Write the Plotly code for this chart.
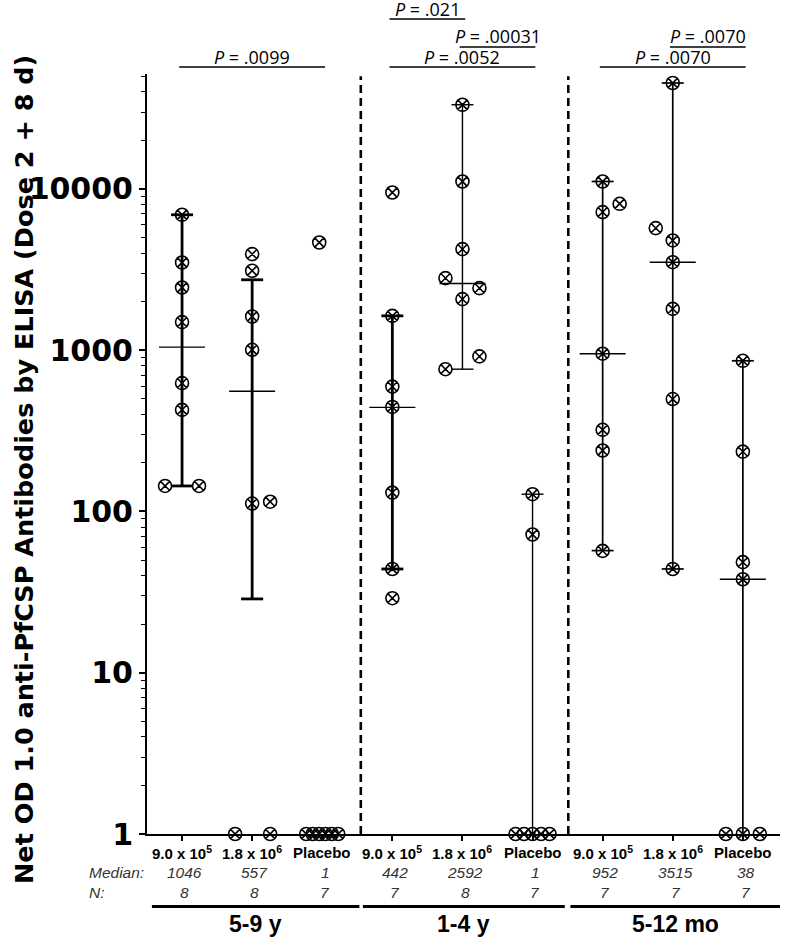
import plotly.graph_objects as go

# ---------------- data ----------------
categories = ["9.0 x 10<sup>5</sup>", "1.8 x 10<sup>6</sup>", "Placebo"] * 3
age_groups = ["5-9 y", "1-4 y", "5-12 mo"]
median_labels = ["1046", "557", "1", "442", "2592", "1", "952", "3515", "38"]
n_labels = ["8", "8", "7", "7", "8", "7", "7", "7", "7"]

vals_59_low = [6918, 3499, 2449, 1494, 625, 427, 144, 144]
vals_59_high = [3945, 3110, 1618, 1006, 112, 115, 1, 1]
vals_59_pbo = [4658, 1, 1, 1, 1, 1, 1]
vals_14_low = [9511, 1634, 595, 445, 131, 44, 29]
vals_14_high = [33300, 11130, 4238, 2800, 2428, 2075, 916, 763]
vals_14_pbo = [128, 72, 1, 1, 1, 1, 1]
vals_512_low = [11130, 8093, 7190, 952, 321, 239, 57]
vals_512_high = [45400, 5720, 4795, 3515, 1806, 498, 44]
vals_512_pbo = [860, 235, 48.5, 38, 1, 1, 1]

medians = [1046, 557, 1, 442, 2592, 1, 952, 3515, 38]
whisker_low = [144, 28.7, None, 44, 763, 1, 57.2, 44, 1]
whisker_high = [6918, 2735, None, 1634, 33300, 128, 11130, 45400, 860]

p_values = [".0099", ".021", ".00031", ".0052", ".0070", ".0070"]
p_pairs = [(0, 2), (3, 4), (4, 5), (3, 5), (7, 8), (6, 8)]

# ---------------- layout / style ----------------
series = [vals_59_low, vals_59_high, vals_59_pbo,
          vals_14_low, vals_14_high, vals_14_pbo,
          vals_512_low, vals_512_high, vals_512_pbo]
# horizontal scatter offsets of the dots (pixels)
jitter_px = [
    [0, 0, 0, 0, 0, 0, -17, 17],
    [0, 0, 0, 0, 0, 18, -17, 18],
    [-3, -16, -9.6, -3.2, 3.2, 9.6, 16],
    [0, 0, 0, 0, 0, 0, 0],
    [0, 0, 0, -17, 17, 0, 17, -17],
    [0, 0, -17, -8.5, 0, 8.5, 17],
    [0, 17, 0, 0, 0, 0, 0],
    [0, -17, 0, 0, 0, 0, 0],
    [0, 0, 0, 0, -17, 0, 17],
]
whisker_width = [2.8, 2.8, 0, 2.8, 1.4, 1.4, 1.7, 1.7, 1.7]
# paper-y of bracket lines and of their texts (three stacked levels)
p_line_y = [1.0092, 1.0724, 1.0355, 1.0092, 1.0355, 1.0092]
p_text_y = [1.0224, 1.0855, 1.0500, 1.0224, 1.0500, 1.0224]

W, H = 788, 942
ML, MR, MT, MB = 147, 8, 74, 108
XR = [-0.5, 8.53]
PX_PER_UNIT = (W - ML - MR) / (XR[1] - XR[0])
CAP_HALF = 11 / PX_PER_UNIT
MED_HALF = 23 / PX_PER_UNIT
dividers = [2.55, 5.51]

fig = go.Figure()

# whiskers, caps, median lines
for i in range(9):
    if whisker_low[i] is not None:
        xs = [i, i, None]
        ys = [whisker_low[i], whisker_high[i], None]
        for v in (whisker_low[i], whisker_high[i]):
            if v > 1:
                xs += [i - CAP_HALF, i + CAP_HALF, None]
                ys += [v, v, None]
        fig.add_trace(go.Scatter(x=xs, y=ys, mode="lines",
                                 line=dict(color="black", width=whisker_width[i]),
                                 cliponaxis=False, hoverinfo="skip", showlegend=False))
    if medians[i] > 1:
        fig.add_trace(go.Scatter(x=[i - MED_HALF, i + MED_HALF], y=[medians[i], medians[i]],
                                 mode="lines", line=dict(color="black", width=1.4),
                                 cliponaxis=False, hoverinfo="skip", showlegend=False))

# data points
for i, vals in enumerate(series):
    xs = [i + j / PX_PER_UNIT for j in jitter_px[i]]
    fig.add_trace(go.Scatter(x=xs, y=vals, mode="markers",
                             marker=dict(symbol="circle-x-open", size=13, color="black",
                                         line=dict(color="black", width=1.6)),
                             cliponaxis=False, showlegend=False))

shapes = []
for d in dividers:
    shapes.append(dict(type="line", xref="x", yref="paper", x0=d, x1=d, y0=0, y1=0.997,
                       line=dict(color="black", width=2.6, dash="8px,5px")))

annotations = []
# p-value brackets
for (a, b), p, ly, ty in zip(p_pairs, p_values, p_line_y, p_text_y):
    shapes.append(dict(type="line", xref="x", yref="paper", x0=a - 0.04, x1=b + 0.04,
                       y0=ly, y1=ly, line=dict(color="black", width=1.6)))
    annotations.append(dict(x=(a + b) / 2, y=ty, xref="x", yref="paper",
                            text="<i>P</i> = " + p, showarrow=False,
                            xanchor="center", yanchor="middle",
                            font=dict(family="Open Sans", size=18, color="black")))

# category labels / medians / N
for i in range(9):
    annotations.append(dict(x=i, y=-0.0237, xref="x", yref="paper", text="<b>" + categories[i] + "</b>",
                            showarrow=False, xanchor="center", yanchor="middle",
                            font=dict(family="Liberation Sans", size=15, color="black")))
    annotations.append(dict(x=i + 0.04, y=-0.0513, xref="x", yref="paper", text="<i>" + median_labels[i] + "</i>",
                            showarrow=False, xanchor="center", yanchor="middle",
                            font=dict(family="Liberation Sans", size=15.5, color="#333333")))
    annotations.append(dict(x=i + 0.04, y=-0.0776, xref="x", yref="paper", text="<i>" + n_labels[i] + "</i>",
                            showarrow=False, xanchor="center", yanchor="middle",
                            font=dict(family="Liberation Sans", size=15.5, color="#333333")))
for lab, yy in (("Median:", -0.0513), ("N:", -0.0776)):
    annotations.append(dict(x=-0.0948, y=yy, xref="paper", yref="paper", text="<i>" + lab + "</i>",
                            xanchor="left", yanchor="middle", showarrow=False,
                            font=dict(family="Liberation Sans", size=15.5, color="#333333")))

# age-group bars and labels
group_spans = [(-0.43, 2.53), (2.58, 5.46), (5.54, 8.53)]
for (g0, g1), lab in zip(group_spans, age_groups):
    shapes.append(dict(type="line", xref="x", yref="paper", x0=g0, x1=g1, y0=-0.0954, y1=-0.0954,
                       line=dict(color="black", width=3)))
    annotations.append(dict(x=(g0 + g1) / 2, y=-0.118, xref="x", yref="paper", text="<b>" + lab + "</b>",
                            showarrow=False, xanchor="center", yanchor="middle",
                            font=dict(family="Liberation Sans", size=23, color="black")))

# y title
annotations.append(dict(x=-0.1943, y=0.479, xref="paper", yref="paper", textangle=-90,
                        xanchor="center", yanchor="middle",
                        text="<b>Net OD 1.0 anti-PfCSP Antibodies by ELISA (Dose 2 + 8 d)</b>",
                        showarrow=False, font=dict(family="DejaVu Sans", size=25.5, color="black")))

minor_vals = [m * 10 ** e for e in range(0, 5) for m in range(2, 10) if m * 10 ** e < 52000]

fig.update_layout(
    width=W, height=H, margin=dict(l=ML, r=MR, t=MT, b=MB, autoexpand=False),
    plot_bgcolor="white", paper_bgcolor="white",
    shapes=shapes, annotations=annotations,
    xaxis=dict(range=XR, showgrid=False, zeroline=False, showline=True, linecolor="black", linewidth=2,
               tickmode="array", tickvals=list(range(9)), ticks="outside", ticklen=5, tickwidth=1.6,
               tickcolor="black", showticklabels=False),
    yaxis=dict(type="log", range=[0, 4.713], showgrid=False, zeroline=False, showline=True,
               linecolor="black", linewidth=2, tickmode="array", automargin=False,
               tickvals=[1, 10, 100, 1000, 10000], ticktext=["1", "10", "100", "1000", "10000"],
               ticks="outside", ticklen=6, tickwidth=2, tickcolor="black",
               tickfont=dict(family="DejaVu Sans", size=30, color="black", weight="bold"),
               minor=dict(tickmode="array", tickvals=minor_vals, ticks="outside", ticklen=4,
                          tickwidth=1.4, tickcolor="black", showgrid=False)),
)

fig.write_html("out.html", config={"displayModeBar": False},
               post_script="document.body.style.margin='0px';")
